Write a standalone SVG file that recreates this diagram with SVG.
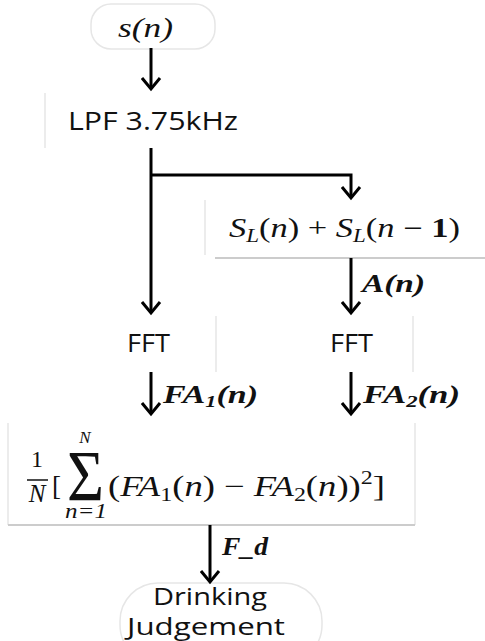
<svg xmlns="http://www.w3.org/2000/svg" width="485" height="641" viewBox="0 0 485 641">
<defs>
<style>
.sans{font-family:"Open Sans","Noto Sans","Liberation Sans",sans-serif;font-size:25px;fill:#111}
.math{font-family:"Liberation Serif","DejaVu Serif",serif;font-size:27px;fill:#111}
.it{font-style:italic}
.lab{font-family:"Liberation Serif","DejaVu Serif",serif;font-size:26px;font-style:italic;font-weight:bold;fill:#111}
.conn{stroke:#000;stroke-width:3;fill:none}
.faint{stroke:#e6e6e6;stroke-width:1.5;fill:none}
</style>
<marker id="ah" markerUnits="userSpaceOnUse" markerWidth="24" markerHeight="24" viewBox="-12 -14 24 24" refX="0" refY="0" orient="auto">
<path d="M-11,-9 L0,0 L-11,9" stroke="#000" stroke-width="3" fill="none"/>
</marker>
</defs>
<rect width="485" height="641" fill="#fff"/>

<g id="node-s">
<rect x="91" y="4" width="124" height="45" rx="20" class="faint"/>
<text x="118" y="37" class="math it" textLength="55" lengthAdjust="spacingAndGlyphs">s(n)</text>
</g>

<g id="node-lpf">
<line x1="45" y1="93" x2="45" y2="148" class="faint"/>
<text x="68" y="130" class="sans" textLength="170" lengthAdjust="spacingAndGlyphs">LPF 3.75kHz</text>
</g>

<g id="node-sum">
<line x1="205" y1="200" x2="205" y2="255" class="faint"/>
<line x1="215" y1="258" x2="485" y2="258" stroke="#ccc" stroke-width="2"/>
<text x="229" y="237" class="math" textLength="231" lengthAdjust="spacingAndGlyphs"><tspan class="it">S</tspan><tspan class="it" style="font-size:18px" dy="5">L</tspan><tspan dy="-5">(</tspan><tspan class="it">n</tspan><tspan>) + </tspan><tspan class="it">S</tspan><tspan class="it" style="font-size:18px" dy="5">L</tspan><tspan dy="-5">(</tspan><tspan class="it">n</tspan><tspan> − </tspan><tspan font-weight="bold">1</tspan><tspan>)</tspan></text>
</g>

<g id="node-fft1">
<line x1="216" y1="316" x2="216" y2="372" class="faint"/>
<text x="127" y="352" class="sans" textLength="43" lengthAdjust="spacingAndGlyphs">FFT</text>
</g>

<g id="node-fft2">
<line x1="413" y1="316" x2="413" y2="372" class="faint"/>
<text x="330" y="352" class="sans" textLength="43" lengthAdjust="spacingAndGlyphs">FFT</text>
</g>

<g id="node-formula">
<line x1="8" y1="423" x2="8" y2="525" class="faint"/>
<line x1="415" y1="423" x2="415" y2="525" class="faint"/>
<line x1="8" y1="525" x2="415" y2="525" stroke="#ccc" stroke-width="2"/>
<text x="37" y="467" class="math" style="font-size:24px" text-anchor="middle">1</text>
<line x1="27" y1="480" x2="48" y2="480" stroke="#111" stroke-width="1.5"/>
<text x="37" y="502" class="math it" style="font-size:25px" text-anchor="middle">N</text>
<text x="52" y="495" class="math">[</text>
<text x="67" y="500" class="math" style="font-size:72px" textLength="37" lengthAdjust="spacingAndGlyphs">Σ</text>
<text x="85" y="443" class="math it" style="font-size:17px" text-anchor="middle">N</text>
<text x="65" y="518" class="math it" style="font-size:20px" textLength="42" lengthAdjust="spacingAndGlyphs">n=1</text>
<text x="108" y="496" class="math" style="font-size:29px" textLength="277" lengthAdjust="spacingAndGlyphs">(<tspan class="it">FA</tspan><tspan style="font-size:19px" dy="5">1</tspan><tspan dy="-5">(</tspan><tspan class="it">n</tspan>) − <tspan class="it">FA</tspan><tspan style="font-size:19px" dy="5">2</tspan><tspan dy="-5">(</tspan><tspan class="it">n</tspan>))<tspan style="font-size:19px" dy="-12">2</tspan><tspan dy="12">]</tspan></text>
</g>

<g id="node-judge">
<rect x="120" y="583" width="202" height="80" rx="38" class="faint"/>
<text x="153" y="605" class="sans" style="font-size:24px" textLength="114" lengthAdjust="spacingAndGlyphs">Drinking</text>
<text x="127" y="635" class="sans" style="font-size:24px" textLength="158" lengthAdjust="spacingAndGlyphs">Judgement</text>
</g>

<g id="connectors">
<line x1="151" y1="48" x2="151" y2="89" class="conn" marker-end="url(#ah)"/>
<line x1="151" y1="148" x2="151" y2="313" class="conn" marker-end="url(#ah)"/>
<polyline points="151,175 351,175 351,198" class="conn" marker-end="url(#ah)"/>
<line x1="351" y1="258" x2="351" y2="313" class="conn" marker-end="url(#ah)"/>
<line x1="151" y1="372" x2="151" y2="414" class="conn" marker-end="url(#ah)"/>
<line x1="351" y1="372" x2="351" y2="414" class="conn" marker-end="url(#ah)"/>
<line x1="210" y1="525" x2="210" y2="582" class="conn" marker-end="url(#ah)"/>
<text x="362" y="292" class="lab" textLength="63" lengthAdjust="spacingAndGlyphs">A(n)</text>
<text x="163" y="403" class="lab" textLength="95" lengthAdjust="spacingAndGlyphs">FA<tspan style="font-size:17px" dy="4">1</tspan><tspan dy="-4">(n)</tspan></text>
<text x="363" y="403" class="lab" textLength="97" lengthAdjust="spacingAndGlyphs">FA<tspan style="font-size:17px" dy="4">2</tspan><tspan dy="-4">(n)</tspan></text>
<text x="222" y="555" class="lab" textLength="46" lengthAdjust="spacingAndGlyphs">F_d</text>
</g>
</svg>
